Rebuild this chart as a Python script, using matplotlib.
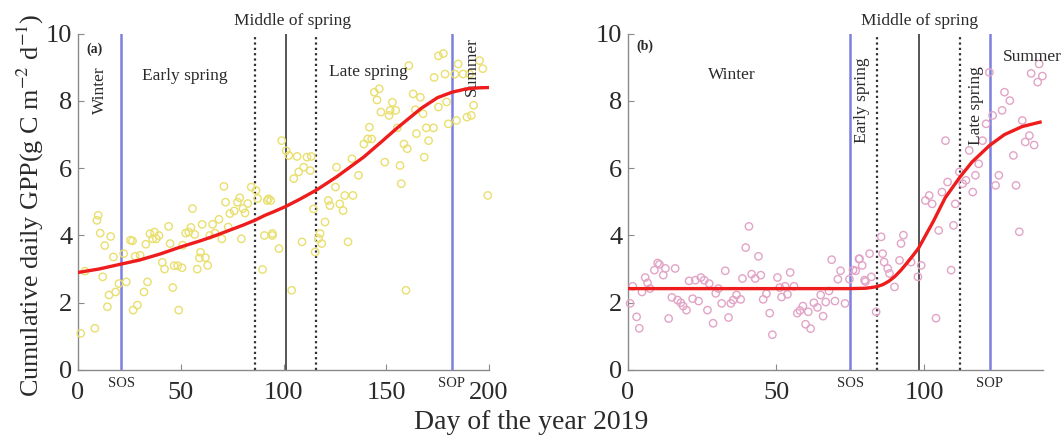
import matplotlib
matplotlib.use("Agg")
import matplotlib.pyplot as plt
import matplotlib.transforms as mtransforms

plt.rcParams['font.family'] = ['Liberation Serif', 'DejaVu Serif']
plt.rcParams['mathtext.fontset'] = 'stix'

# ---------------- Data: panel (a) ----------------
a_days = [1.3, 8.2, 9.8, 9.2, 10.8, 15.9, 13, 12, 17.2, 14.3, 15.1, 18.3, 19.9, 22.2, 23.5,
          25.5, 26.5, 27.8, 30.2, 26.8, 28.9, 32.1, 33.8, 33, 35, 37.2, 38.1, 36.3, 39.4, 41,
          42.1, 44.1, 44.8, 46.8, 48.5, 46.1, 49, 50.6, 50.9, 52.4, 53.9, 55.7, 54.9, 56.8, 58,
          59.6, 59.1, 60.4, 62, 63.1, 64.1, 65.5, 66.7, 68.6, 70, 71, 71.8, 73.1, 73.9, 76,
          77.6, 78.7, 79.5, 80.3, 81.3, 82.6, 84.3, 86.6, 87.4, 89.8, 90.7, 92.1, 93.8, 94.6, 3.4,
          92.7, 94.6, 97.8, 99.1, 101.3, 102.6, 106.6, 105, 107.4, 109.8, 111.4, 113.5, 113, 109,
          114.6, 115.4, 118.6, 117.8, 117, 120.2, 121.8, 122.6, 125.8, 125.3, 127.4, 129, 129.8,
          131.4, 133.3, 133.8, 136.5, 139.1, 141, 142.9, 141.8, 144.2, 146.6, 145.5, 147.4, 149.3,
          151.4, 153, 151.9, 154.6, 155.4, 156.7, 157.3, 158.6, 160.2, 161, 163.1, 164.2, 164.7,
          166.6, 167.9, 169.5, 168.5, 170.6, 173, 173.3, 175.4, 177.8, 178.6, 175.4, 179.4, 180.2,
          183.4, 184.2, 185, 187.4, 189.3, 191.4, 192.5, 190.6, 195.4, 197, 199.4, 104, 159.6]
a_gpp = [1.09, 1.24, 4.6, 4.45, 4.07, 3.97, 3.7, 2.77, 3.36, 1.88, 2.23, 2.32, 2.57, 3.46, 2.62,
         3.86, 3.84, 3.38, 3.41, 1.78, 1.93, 2.32, 2.62, 3.74, 4.05, 4.1, 3.9, 3.9, 4.0, 3.2,
         3.0, 4.27, 3.76, 3.1, 3.1, 2.45, 1.78, 3.04, 3.71, 4.07, 4.1, 4.8, 4.24, 4.03, 3.0,
         3.5, 3.33, 4.33, 3.34, 3.11, 4.0, 4.33, 4.07, 4.48, 3.9, 5.46, 4.99, 4.25, 4.65, 4.73,
         4.99, 5.12, 3.9, 4.8, 4.67, 4.95, 5.44, 5.34, 5.1, 2.99, 4.0, 5.04, 5.04, 4.0, 2.94,
         5.09, 4.06, 3.61, 6.82, 6.52, 6.38, 6.35, 5.69, 5.89, 6.03, 6.33, 6.35, 5.93, 3.81,
         4.79, 3.51, 3.76, 4.06, 3.91, 4.4, 5.04, 4.89, 6.03, 5.44, 4.94, 4.74, 5.19,
         3.81, 6.28, 5.19, 5.79, 6.72, 6.87, 6.87, 7.22, 8.26, 8.36, 8.03, 7.67, 6.18,
         7.57, 7.96, 7.72, 7.72, 7.2, 6.08, 5.54, 6.72, 6.58, 9.05, 8.21, 7.74, 7.03,
         8.11, 7.62, 7.2, 6.33, 6.82, 7.2, 8.7, 9.34, 9.41, 8.8, 7.82, 7.97, 7.32,
         8.8, 7.42, 9.1, 8.8, 7.52, 7.57, 7.87, 8.8, 9.2, 8.96, 5.19, 2.37, 2.37]
a_fit_days = [0, 10, 21, 30, 40, 50, 60, 67, 80, 86, 91, 95, 101, 108, 116, 126, 139, 147,
              155, 161, 167, 175, 182, 189, 195, 200]
a_fit_gpp = [2.9, 3.0, 3.15, 3.27, 3.45, 3.66, 3.85, 4.0, 4.3, 4.45, 4.6, 4.7, 4.86, 5.08,
             5.35, 5.75, 6.33, 6.75, 7.18, 7.48, 7.78, 8.1, 8.26, 8.36, 8.39, 8.4]
a_sos, a_mid_lo, a_mid, a_mid_hi, a_sop = 21, 86, 101, 116, 182

# ---------------- Data: panel (b) ----------------
b_days = [0.7, 1.6, 2.9, 3.8, 4.7, 5.8, 6.6, 7.4, 8.9, 10, 10.6, 11.9, 12.6, 13.7, 14.8,
          15.9, 16.7, 17.8, 18.6, 19.7, 20.6, 21.8, 22.7, 23.8, 24.6, 25.7, 26.8, 27.4, 28.7,
          29.6, 30.5, 31.6, 32.8, 33.9, 34.7, 35.5, 36.6, 38, 38.6, 39.7, 40.8, 41.7, 42.9, 44,
          44.8, 45.6, 46.7, 47.8, 48.7, 50.4, 51.2, 51.8, 53, 53.8, 54.7, 56, 57.1, 58, 59,
          59.9, 60.8, 61.6, 62.7, 63.9, 65, 65.8, 66.7, 67.8, 68.7, 69.8, 70.8, 71.7, 73.2,
          74.7, 76.8, 77.9, 79, 80.1,
          75.9, 78.1, 79.8, 81.5, 82.1, 83.7, 85.4, 85.9, 86.4, 87.6, 88.2, 89.9, 91.6, 92.1,
          92.9, 95.5, 97.8, 98.9, 100.3, 101.6, 102.6, 103.9, 104.8, 105.9, 107.1, 107.8, 109,
          109.8, 110.4, 111.8, 112.9, 114, 115.1, 116.3, 117.2, 118.3, 119.6, 120.8, 121.9, 123,
          124, 125.1, 126.2, 127, 128.8, 130, 130.9, 132, 133, 134, 135.4, 137, 136, 138.2,
          139.8, 138.7]
b_gpp = [1.98, 2.49, 1.58, 1.24, 2.32, 2.75, 2.59, 2.42, 2.97, 3.18, 3.14, 2.82, 3.02, 1.53, 2.16,
         3.02, 2.08, 2.0, 1.9, 1.78, 2.65, 2.12, 2.67, 2.05, 2.75, 2.67, 1.78, 2.57, 1.39,
         2.28, 2.42, 1.98, 2.95, 1.56, 1.98, 2.08, 2.23, 2.1, 2.72, 3.64, 4.27, 2.85, 2.72, 3.38,
         2.82, 2.1, 2.27, 1.69, 1.05, 2.75, 2.45, 2.17, 2.49, 2.25, 2.9, 2.49, 1.69, 1.77, 1.9,
         1.36, 1.73, 1.23, 2.0, 1.86, 2.23, 1.6, 2.02, 2.35, 3.28, 2.05, 2.7, 2.95, 1.98,
         2.7, 2.95, 3.3, 3.11, 2.63,
         2.97, 3.31, 2.67, 3.46, 2.77, 1.73, 3.96, 3.46, 3.21, 3.02, 2.87, 2.47, 3.26, 3.76,
         4.01, 3.21, 2.77, 3.11, 5.04, 5.19, 4.94, 1.54, 4.15, 5.29, 6.82, 5.59, 2.97,
         4.3, 4.94, 5.89, 5.54, 5.64, 6.53, 5.29, 5.79, 6.13, 6.82, 7.32, 8.85, 7.57,
         5.49, 5.79, 7.72, 8.26, 8.01, 6.38, 5.49, 4.11, 7.42, 6.78, 6.97, 6.69, 8.82, 8.56,
         8.74, 9.1]
b_fit_days = [0, 20, 40, 60, 75, 80, 82, 84, 86, 88, 90, 92, 94, 96, 98, 103, 107, 112, 116,
              122, 127, 133, 139]
b_fit_gpp = [2.42, 2.42, 2.42, 2.42, 2.42, 2.43, 2.45, 2.48, 2.54, 2.64, 2.78, 2.96, 3.17,
             3.39, 3.62, 4.42, 5.12, 5.74, 6.18, 6.68, 7.0, 7.24, 7.37]
b_sos, b_mid_lo, b_mid, b_mid_hi, b_sop = 75, 84, 98, 112, 122

x_ticks_a = [0, 50, 100, 150, 200]
x_ticks_b = [0, 50, 100]
y_ticks = [0, 2, 4, 6, 8, 10]

# ---------------- Figure ----------------
fig = plt.figure(figsize=(10.63, 4.36), dpi=100)
ax_a = fig.add_axes([0.0734, 0.1514, 0.3866, 0.7713])
ax_b = fig.add_axes([0.5908, 0.1514, 0.3904, 0.7713])

BLUE = '#7c80de'
TXT = '#2a2a2a'


def style(ax, xmax, xticks):
    ax.set_xlim(0, xmax)
    ax.set_ylim(0, 10)
    ax.set_xticks(xticks)
    ax.set_yticks(y_ticks)
    for s in ['top', 'right']:
        ax.spines[s].set_visible(False)
    for s in ['left', 'bottom']:
        ax.spines[s].set_color('#8a8a8a')
        ax.spines[s].set_linewidth(1.0)
    ax.tick_params(direction='in', length=4, color='#8a8a8a', labelsize=19,
                   labelcolor=TXT)
    ax.tick_params(axis='x', pad=9)
    ax.tick_params(axis='y', pad=4)


def vlines(ax, sos, lo, mid, hi, sop):
    ax.axvline(sos, color=BLUE, lw=1.8, zorder=2)
    ax.axvline(sop, color=BLUE, lw=1.8, zorder=2)
    ax.axvline(lo, color='#333333', lw=1.6, ls=(0, (1.0, 1.4)), zorder=2)
    ax.axvline(hi, color='#333333', lw=1.6, ls=(0, (1.0, 1.4)), zorder=2)
    ax.axvline(mid, color='#555555', lw=1.4, zorder=2)
    tr = mtransforms.blended_transform_factory(ax.transData, ax.transAxes)
    ax.text(sos, -0.04, 'SOS', transform=tr, ha='center', va='center', fontsize=10.5,
            color=TXT)
    ax.text(sop, -0.04, 'SOP', transform=tr, ha='center', va='center', fontsize=10.5,
            color=TXT)


# panel (a)
style(ax_a, 200, x_ticks_a)
vlines(ax_a, a_sos, a_mid_lo, a_mid, a_mid_hi, a_sop)
ax_a.scatter(a_days, a_gpp, s=28, facecolors='none', edgecolors='#e9df6e',
             linewidths=1.0, zorder=3, clip_on=False)
ax_a.plot(a_fit_days, a_fit_gpp, color='#ee1c1c', lw=2.4, zorder=4)
ax_a.text(7.8, 9.55, '(a)', fontsize=10, color=TXT, ha='center', va='center',
          fontweight='bold')
ax_a.text(10.7, 8.31, 'Winter', rotation=90, fontsize=12.5, color=TXT, ha='center',
          va='center')
ax_a.text(52, 8.75, 'Early spring', fontsize=12.5, color=TXT, ha='center', va='center')
ax_a.text(141.4, 8.85, 'Late spring', fontsize=12.5, color=TXT, ha='center', va='center')
ax_a.text(191.7, 9.02, 'Summer', rotation=90, fontsize=12.5, color=TXT, ha='center',
          va='center', clip_on=False)
ax_a.text(104.4, 10.39, 'Middle of spring', fontsize=12.5, color=TXT, ha='center',
          va='center', clip_on=False)

# panel (b)
style(ax_b, 140, x_ticks_b)
vlines(ax_b, b_sos, b_mid_lo, b_mid, b_mid_hi, b_sop)
ax_b.scatter(b_days, b_gpp, s=28, facecolors='none', edgecolors='#e2a4c6',
             linewidths=1.0, zorder=3, clip_on=False)
ax_b.plot(b_fit_days, b_fit_gpp, color='#ee1c1c', lw=2.4, zorder=4)
ax_b.text(5.7, 9.64, '(b)', fontsize=10, color=TXT, ha='center', va='center',
          fontweight='bold')
ax_b.text(35, 8.78, 'Winter', fontsize=12.5, color=TXT, ha='center', va='center')
ax_b.text(79.1, 8.01, 'Early spring', rotation=90, fontsize=12.5, color=TXT,
          ha='center', va='center')
ax_b.text(117.5, 7.86, 'Late spring', rotation=90, fontsize=12.5, color=TXT,
          ha='center', va='center')
ax_b.text(136.5, 9.32, 'Summer', fontsize=12.5, color=TXT, ha='center', va='center',
          clip_on=False)
ax_b.text(98.3, 10.39, 'Middle of spring', fontsize=12.5, color=TXT, ha='center',
          va='center', clip_on=False)

fig.text(0.029, 0.53, 'Cumulative daily GPP(g C m$^{-2}$ d$^{-1}$)', rotation=90,
         fontsize=18.8, color=TXT, ha='center', va='center')
fig.text(0.5, 0.03, 'Day of the year 2019', fontsize=20, color=TXT, ha='center',
         va='center')

fig.savefig('out.png', dpi=100)
